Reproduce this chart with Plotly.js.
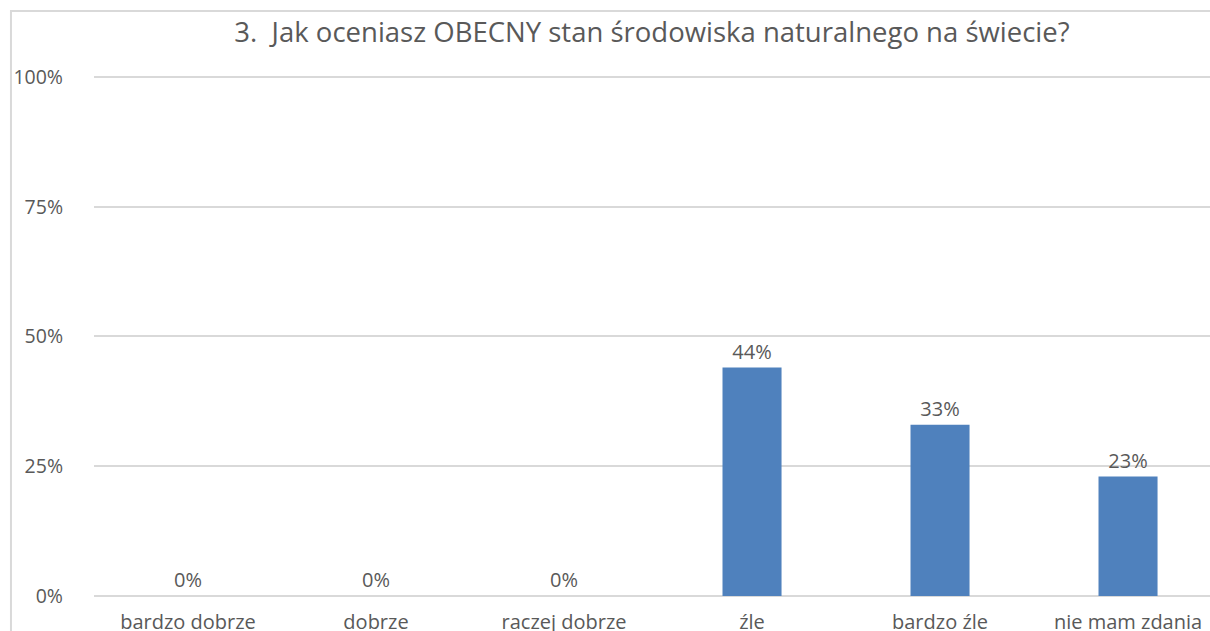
<!DOCTYPE html>
<html>
<head>
<meta charset="utf-8">
<script src="https://cdn.plot.ly/plotly-3.0.1.min.js"></script>
<style>
html,body{margin:0;padding:0;background:#fff;}
#chart{width:1210px;height:631px;}
</style>
</head>
<body>
<div id="chart"></div>
<script>
const categories = ["bardzo dobrze", "dobrze", "raczej dobrze", "źle", "bardzo źle", "nie mam zdania"];
const shares = [0, 0, 0, 0.44, 0.33, 0.23];
const yTickValues = [0, 0.25, 0.5, 0.75, 1.0];
const chartTitle = "3.\u00a0 Jak oceniasz OBECNY stan środowiska naturalnego na świecie?";

const FONT = "'Open Sans', 'DejaVu Sans', sans-serif";
const GRAY = "#595959";

const trace = {
  type: "bar",
  x: categories,
  y: shares,
  marker: {color: "#4f81bd"},
  texttemplate: "%{y:.0%}",
  textposition: "outside",
  textfont: {family: FONT, size: 20, color: GRAY},
  cliponaxis: false,
  hoverinfo: "x+y"
};

const layout = {
  width: 1210,
  height: 631,
  margin: {l: 94, r: 0, t: 25, b: 35},
  paper_bgcolor: "#ffffff",
  plot_bgcolor: "#ffffff",
  showlegend: false,
  bargap: 0.686,
  title: {
    text: chartTitle,
    font: {family: FONT, size: 27.5, color: GRAY},
    x: 0.5, xref: "paper", xanchor: "center",
    y: 0.949, yref: "container", yanchor: "middle"
  },
  xaxis: {
    type: "category",
    range: [-0.5, 5.436],
    showgrid: false,
    zeroline: false,
    showline: false,
    ticks: "",
    ticklabelstandoff: 12,
    tickfont: {family: FONT, size: 20, color: GRAY},
    fixedrange: true
  },
  yaxis: {
    range: [0, 1.1],
    tickvals: yTickValues,
    tickformat: ".0%",
    showgrid: true,
    gridcolor: "#d9d9d9",
    gridwidth: 2,
    zeroline: true,
    zerolinecolor: "#d9d9d9",
    zerolinewidth: 2,
    showline: false,
    ticks: "",
    ticklabelstandoff: 30,
    tickfont: {family: FONT, size: 19.5, color: GRAY},
    fixedrange: true
  },
  shapes: [{
    type: "rect",
    xref: "paper", yref: "paper",
    x0: -0.0744, x1: 1.05,
    y0: -0.3, y1: 1.0245,
    line: {color: "#d9d9d9", width: 2},
    fillcolor: "rgba(0,0,0,0)",
    layer: "below"
  }]
};

Plotly.newPlot("chart", [trace], layout, {displayModeBar: false, staticPlot: true});
</script>
</body>
</html>
